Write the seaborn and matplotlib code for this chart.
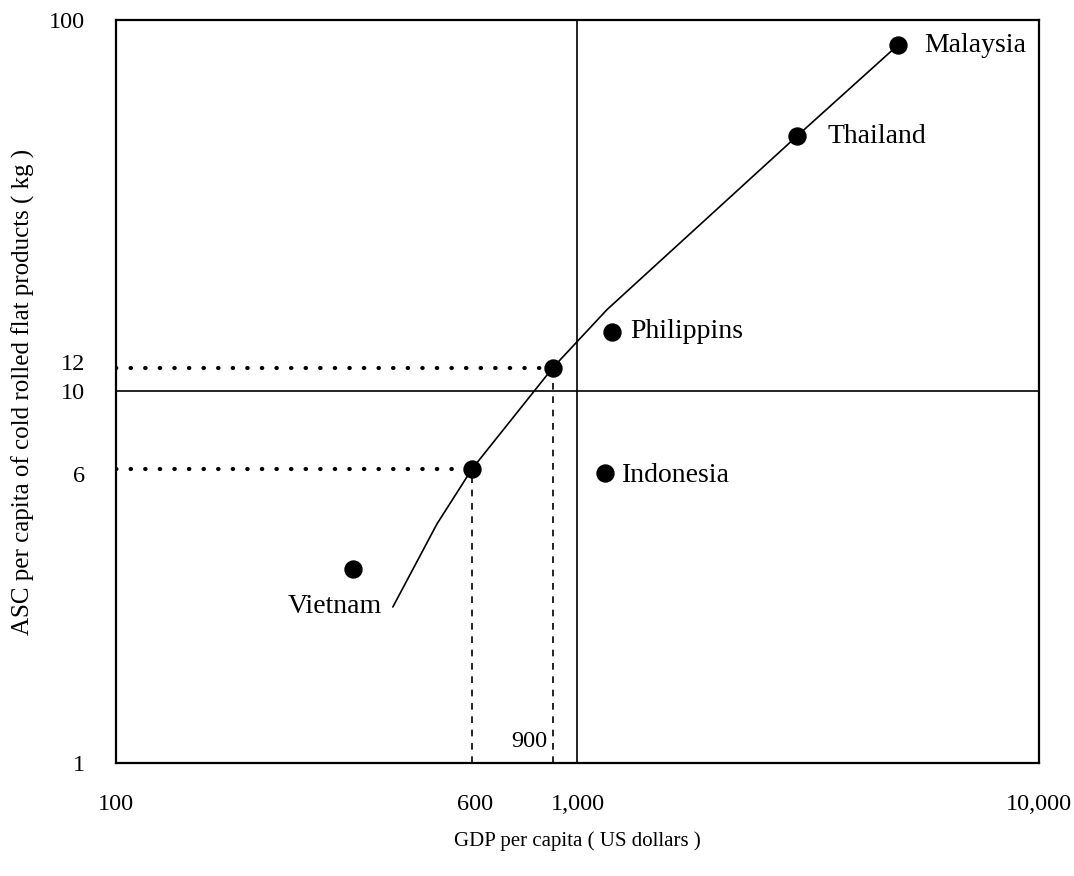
import numpy as np
import pandas as pd
import matplotlib
matplotlib.use('Agg')
import matplotlib.pyplot as plt
import seaborn as sns

# data (log-log axes)
countries = ['Malaysia', 'Thailand', 'Philippins', 'Indonesia', 'Vietnam']
gdp = [4950, 2990, 1187, 1148, 326]
asc = [85.6, 48.7, 14.5, 6.03, 3.33]

# unlabeled reference points on the curve
ref_gdp = [591, 885]
ref_asc = [6.19, 11.6]

# trend curve
curve_gdp = [398, 496, 591, 885, 1158, 2990, 4948]
curve_asc = [2.63, 4.40, 6.19, 11.6, 16.6, 48.7, 85.6]

xticks = [100, 600, 1000, 10000]
xticklabels = ['100', '600', '1,000', '10,000']
yticks = [1, 6, 10, 12, 100]
yticklabels = ['1', '6', '10', '12', '100']

sns.set_theme(style='white')
plt.rcParams['font.family'] = ['Liberation Serif', 'DejaVu Serif']
plt.rcParams['text.color'] = 'black'

fig = plt.figure(figsize=(10.74, 8.76), dpi=100)
ax = fig.add_axes([0.108, 0.129, 0.8594, 0.8482])
ax.set_xscale('log')
ax.set_yscale('log')
ax.set_xlim(100, 10000)
ax.set_ylim(1, 100)

curve = pd.DataFrame({'gdp': curve_gdp, 'asc': curve_asc})
sns.lineplot(data=curve, x='gdp', y='asc', sort=False, color='black', lw=1.2, ax=ax)

pts = pd.DataFrame({'gdp': gdp + ref_gdp, 'asc': asc + ref_asc})
sns.scatterplot(data=pts, x='gdp', y='asc', color='black', s=150, edgecolor='black', zorder=5, ax=ax)

# quadrant lines
ax.axvline(1000, color='black', lw=1.2)
ax.axhline(10, color='black', lw=1.2)

# guide lines to the reference points
for gx, gy in zip(ref_gdp, ref_asc):
    ax.plot([100, gx], [gy, gy], color='black', lw=3, linestyle=(0, (0.1, 3.4)),
            dash_capstyle='round')
    ax.plot([gx, gx], [1, gy], color='black', lw=1.2, linestyle=(0, (4, 4)))

ax.annotate('900', xy=(ref_gdp[1], 1), xytext=(-4, 8), textcoords='offset points',
            ha='right', va='bottom', fontsize=17.5, color='black')

offsets = {'Malaysia': (19, 0), 'Thailand': (22, 0), 'Philippins': (13, 0),
           'Indonesia': (12, -2)}
for name, gx, gy in zip(countries, gdp, asc):
    if name == 'Vietnam':
        ax.annotate(name, xy=(gx, gy), xytext=(-13, -27), textcoords='offset points',
                    ha='center', va='center', fontsize=20, color='black')
    else:
        ax.annotate(name, xy=(gx, gy), xytext=offsets[name], textcoords='offset points',
                    ha='left', va='center', fontsize=20, color='black')

ax.set_xticks(xticks)
ax.set_xticklabels(xticklabels)
ax.set_yticks(yticks)
ax.set_yticklabels(yticklabels)
ax.minorticks_off()
ax.tick_params(axis='both', length=0, pad=22, labelsize=17.5, colors='black')

ax.set_xlabel('GDP per capita ( US dollars )', fontsize=15, color='black')
ax.set_ylabel('ASC per capita of cold rolled flat products ( kg )', fontsize=18, color='black')
ax.xaxis.set_label_coords(0.5, -0.092)
ax.yaxis.set_label_coords(-0.088, 0.5)

for s in ax.spines.values():
    s.set_color('black')
    s.set_linewidth(1.6)

fig.savefig('out.png', dpi=100, facecolor='white')
